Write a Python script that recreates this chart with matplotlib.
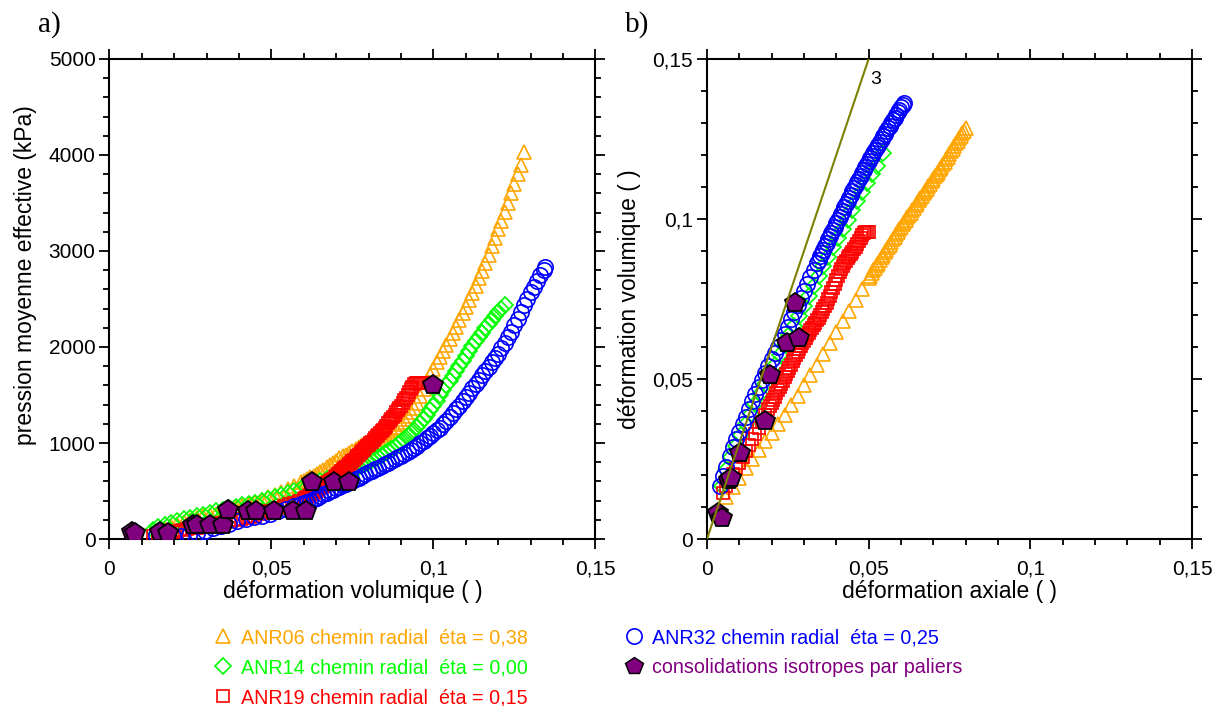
import matplotlib
matplotlib.use('Agg')
import matplotlib.pyplot as plt
from matplotlib.lines import Line2D
from matplotlib.ticker import MultipleLocator, FuncFormatter

plt.rcParams['font.family'] = ['Liberation Sans', 'DejaVu Sans']

# ---- a) pression moyenne effective (kPa) vs deformation volumique ----
ev06 = [0.015, 0.017, 0.019, 0.021, 0.023, 0.025, 0.027, 0.029, 0.031, 0.033, 0.035, 0.037,
        0.039, 0.041, 0.043, 0.045, 0.047, 0.049, 0.051, 0.053, 0.055, 0.057, 0.059,
        0.060, 0.061, 0.062, 0.063, 0.064, 0.065, 0.066, 0.067, 0.068, 0.069,
        0.070, 0.071, 0.072, 0.073, 0.074, 0.075, 0.076, 0.077, 0.078, 0.079,
        0.080, 0.081, 0.082, 0.083, 0.084, 0.085, 0.086, 0.087, 0.088, 0.089,
        0.090, 0.091, 0.092, 0.093, 0.094, 0.095, 0.096, 0.097, 0.098, 0.099,
        0.100, 0.101, 0.102, 0.103, 0.104, 0.105, 0.106, 0.107, 0.108, 0.109,
        0.110, 0.111, 0.112, 0.113, 0.114, 0.115, 0.116, 0.117, 0.118, 0.119,
        0.120, 0.121, 0.122, 0.123, 0.124, 0.125, 0.126, 0.127, 0.128]
p06 = [60, 100, 135, 160, 180, 200, 220, 235, 250, 265, 280, 300,
       320, 340, 360, 385, 410, 435, 460, 490, 520, 555, 590,
       607, 625, 642, 660, 680, 700, 722, 745, 767, 790,
       815, 840, 860, 880, 900, 920, 940, 960, 978, 995,
       1010, 1025, 1042, 1060, 1080, 1100, 1122, 1145, 1170, 1195,
       1222, 1250, 1283, 1320, 1365, 1420, 1485, 1560, 1635, 1710,
       1775, 1840, 1900, 1960, 2020, 2080, 2145, 2210, 2280, 2350,
       2420, 2490, 2565, 2640, 2715, 2790, 2875, 2960, 3050, 3140,
       3225, 3310, 3405, 3500, 3600, 3700, 3800, 3900, 4030]

ev14 = [0.0135, 0.015, 0.017, 0.019, 0.021, 0.023, 0.025, 0.027, 0.029, 0.031, 0.033, 0.035,
        0.037, 0.039, 0.041, 0.043, 0.045, 0.047, 0.049, 0.051, 0.053, 0.055, 0.057, 0.059,
        0.061, 0.063, 0.065, 0.067, 0.069,
        0.070, 0.071, 0.072, 0.073, 0.074, 0.075, 0.076, 0.077, 0.078, 0.079,
        0.080, 0.081, 0.082, 0.083, 0.084, 0.085, 0.086, 0.087, 0.088, 0.089,
        0.090, 0.091, 0.092, 0.093, 0.094, 0.095, 0.096, 0.097, 0.098, 0.099,
        0.100, 0.101, 0.102, 0.103, 0.104, 0.105, 0.106, 0.107, 0.108, 0.109,
        0.110, 0.111, 0.112, 0.113, 0.114, 0.115, 0.116, 0.117, 0.118, 0.119,
        0.120, 0.121, 0.122]
p14 = [90, 125, 150, 170, 185, 205, 220, 240, 255, 270, 290, 305,
       320, 335, 350, 365, 380, 395, 415, 435, 455, 475, 500, 520,
       545, 570, 600, 625, 650,
       662, 675, 688, 700, 712, 725, 740, 755, 770, 785,
       802, 820, 837, 855, 875, 895, 917, 940, 962, 985,
       1012, 1040, 1070, 1100, 1135, 1170, 1210, 1250, 1295, 1340,
       1390, 1440, 1495, 1550, 1600, 1650, 1700, 1750, 1800, 1850,
       1905, 1960, 2010, 2060, 2105, 2150, 2195, 2240, 2280, 2320,
       2360, 2400, 2440]

ev19 = [0.0135, 0.015, 0.0165, 0.018, 0.0195, 0.021, 0.0225, 0.024, 0.0255, 0.027, 0.0285,
        0.030, 0.0315, 0.033, 0.0345, 0.036, 0.0375, 0.039, 0.0405, 0.042, 0.0435, 0.045,
        0.0465, 0.048, 0.0495, 0.051, 0.0525, 0.054, 0.0555, 0.057, 0.0585,
        0.0600, 0.0605, 0.0610, 0.0615, 0.0620, 0.0625, 0.0630, 0.0635, 0.0640, 0.0645,
        0.0650, 0.0655, 0.0660, 0.0665, 0.0670, 0.0675, 0.0680, 0.0685, 0.0690, 0.0695,
        0.0700, 0.0705, 0.0710, 0.0715, 0.0720, 0.0725, 0.0730, 0.0735, 0.0740, 0.0745,
        0.0750, 0.0755, 0.0760, 0.0765, 0.0770, 0.0775, 0.0780, 0.0785, 0.0790, 0.0795,
        0.0800, 0.0805, 0.0810, 0.0815, 0.0820, 0.0825, 0.0830, 0.0835, 0.0840, 0.0845,
        0.0850, 0.0855, 0.0860, 0.0865, 0.0870, 0.0875, 0.0880, 0.0885, 0.0890, 0.0895,
        0.0900, 0.0905, 0.0910, 0.0915, 0.0920, 0.0925, 0.0930, 0.0935, 0.0940, 0.0945,
        0.0950, 0.0955, 0.0960, 0.0965, 0.0970]
p19 = [30, 40, 50, 60, 70, 80, 90, 100, 110, 120, 130,
       140, 150, 160, 170, 180, 190, 200, 210, 220, 230, 245,
       260, 275, 290, 305, 320, 340, 360, 380, 400,
       420, 430, 440, 450, 460, 470, 480, 492, 505, 517,
       530, 542, 555, 567, 580, 592, 605, 617, 630, 645,
       660, 675, 690, 705, 720, 735, 750, 765, 780, 795,
       810, 828, 845, 862, 880, 897, 915, 932, 950, 965,
       980, 998, 1015, 1032, 1050, 1068, 1085, 1102, 1120, 1140,
       1160, 1182, 1205, 1228, 1250, 1272, 1295, 1318, 1340, 1365,
       1390, 1418, 1445, 1472, 1500, 1530, 1560, 1585, 1610, 1620,
       1620, 1620, 1620, 1620, 1620]

ev32 = [0.0145, 0.017, 0.0195, 0.022, 0.0245, 0.027, 0.0295, 0.032, 0.0345, 0.037, 0.0395,
        0.042, 0.0445, 0.047, 0.0495, 0.052, 0.0545, 0.057, 0.059,
        0.060, 0.061, 0.062, 0.063, 0.064, 0.065, 0.066, 0.067, 0.068, 0.069,
        0.070, 0.071, 0.072, 0.073, 0.074, 0.075, 0.076, 0.077, 0.078, 0.079,
        0.080, 0.081, 0.082, 0.083, 0.084, 0.085, 0.086, 0.087, 0.088, 0.089,
        0.090, 0.091, 0.092, 0.093, 0.094, 0.095, 0.096, 0.097, 0.098, 0.099,
        0.100, 0.101, 0.102, 0.103, 0.104, 0.105, 0.106, 0.107, 0.108, 0.109,
        0.110, 0.111, 0.112, 0.113, 0.114, 0.115, 0.116, 0.117, 0.118, 0.119,
        0.120, 0.121, 0.122, 0.123, 0.124, 0.125, 0.126, 0.127, 0.128, 0.129,
        0.130, 0.131, 0.132, 0.133, 0.134, 0.1345]
p32 = [45, 35, 30, 30, 45, 65, 85, 110, 135, 160, 185,
       205, 225, 245, 265, 290, 315, 340, 362,
       375, 387, 400, 415, 432, 448, 464, 480, 496, 512,
       528, 544, 560, 576, 592, 608, 624, 640, 658, 676,
       694, 710, 725, 743, 761, 779, 797, 815, 833, 851,
       869, 887, 905, 926, 948, 972, 996, 1020, 1048, 1076,
       1104, 1132, 1160, 1195, 1230, 1270, 1310, 1350, 1390, 1435,
       1480, 1525, 1570, 1615, 1660, 1705, 1750, 1795, 1840, 1885,
       1930, 1985, 2040, 2100, 2160, 2225, 2290, 2365, 2440, 2505,
       2570, 2630, 2690, 2745, 2800, 2830]

ev_cons = [0.0069, 0.0079, 0.0156, 0.0182, 0.0259, 0.0270, 0.0311, 0.0352, 0.0365, 0.0429, 0.0453,
           0.0508, 0.0566, 0.0607, 0.0625, 0.0692, 0.0738, 0.1000]
p_cons = [76, 66, 76, 66, 146, 146, 146, 146, 302, 295, 295, 295, 295, 295, 597, 597, 597, 1600]

# ---- b) deformation volumique vs deformation axiale ----
ea06_b = [0.006, 0.008, 0.010, 0.012, 0.014, 0.016, 0.018, 0.020, 0.022, 0.024, 0.026, 0.028,
          0.030, 0.032, 0.034, 0.036, 0.038, 0.040, 0.042, 0.044, 0.046, 0.048, 0.050,
          0.0505, 0.0510, 0.0515, 0.0520, 0.0525, 0.0530, 0.0535, 0.0540, 0.0545, 0.0550,
          0.0555, 0.0560, 0.0565, 0.0570, 0.0575, 0.0580, 0.0585, 0.0590, 0.0595, 0.0600,
          0.0605, 0.0610, 0.0615, 0.0620, 0.0625, 0.0630, 0.0635, 0.0640, 0.0645, 0.0650,
          0.0655, 0.0660, 0.0665, 0.0670, 0.0675, 0.0680, 0.0685, 0.0690, 0.0695, 0.0700,
          0.0705, 0.0710, 0.0715, 0.0720, 0.0725, 0.0730, 0.0735, 0.0740, 0.0745, 0.0750,
          0.0755, 0.0760, 0.0765, 0.0770, 0.0775, 0.0780, 0.0785, 0.0790, 0.0795, 0.0800]
ev06_b = [0.0130, 0.0162, 0.0192, 0.0222, 0.0250, 0.0278, 0.0305, 0.0332, 0.0360, 0.0388, 0.0418,
          0.0448, 0.0480, 0.0512, 0.0545, 0.0578, 0.0612, 0.0646, 0.0680, 0.0714, 0.0748, 0.0782,
          0.0815,
          0.0823, 0.0831, 0.0840, 0.0848, 0.0856, 0.0864, 0.0872, 0.0880, 0.0888, 0.0896,
          0.0904, 0.0912, 0.0920, 0.0928, 0.0936, 0.0944, 0.0952, 0.0960, 0.0968, 0.0975,
          0.0983, 0.0990, 0.0998, 0.1005, 0.1013, 0.1020, 0.1028, 0.1035, 0.1043, 0.1050,
          0.1058, 0.1065, 0.1073, 0.1080, 0.1088, 0.1095, 0.1103, 0.1110, 0.1118, 0.1125,
          0.1133, 0.1140, 0.1148, 0.1155, 0.1163, 0.1171, 0.1179, 0.1187, 0.1195, 0.1203,
          0.1212, 0.1220, 0.1228, 0.1236, 0.1244, 0.1252, 0.1260, 0.1268, 0.1276, 0.1283]

ea14_b = [0.0045, 0.006, 0.0075, 0.009, 0.0105, 0.012, 0.0135, 0.015, 0.0165, 0.018, 0.0195, 0.021,
          0.0225, 0.024, 0.0255, 0.027, 0.0285, 0.030, 0.0315, 0.033, 0.0345, 0.036, 0.0375, 0.039,
          0.0405, 0.042, 0.0435, 0.045, 0.0465, 0.048, 0.0495, 0.051, 0.0525, 0.0545]
ev14_b = [0.0165, 0.0215, 0.0255, 0.0292, 0.0325, 0.0358, 0.0390, 0.0422, 0.0453, 0.0484, 0.0515,
          0.0545, 0.0575, 0.0605, 0.0636, 0.0667, 0.0698, 0.0729, 0.0760, 0.0791, 0.0822, 0.0852,
          0.0882, 0.0911, 0.0940, 0.0969, 0.0998, 0.1027, 0.1055, 0.1083, 0.1111, 0.1139, 0.1167,
          0.1205]

ea19_b = [0.005, 0.006, 0.007, 0.008, 0.009, 0.010, 0.011, 0.012, 0.013, 0.014, 0.015, 0.016,
          0.017, 0.018, 0.019,
          0.0195, 0.0200, 0.0205, 0.0210, 0.0215, 0.0220, 0.0225, 0.0230, 0.0235, 0.0240,
          0.0245, 0.0250, 0.0255, 0.0260, 0.0265, 0.0270, 0.0275, 0.0280, 0.0285, 0.0290,
          0.0295, 0.0300, 0.0305, 0.0310, 0.0315, 0.0320, 0.0325, 0.0330, 0.0335, 0.0340,
          0.0345, 0.0350, 0.0355, 0.0360, 0.0365, 0.0370, 0.0375, 0.0380, 0.0385, 0.0390,
          0.0395, 0.0400, 0.0405, 0.0410, 0.0415, 0.0420, 0.0425, 0.0430, 0.0435, 0.0440,
          0.0445, 0.0450, 0.0455, 0.0460, 0.0465, 0.0470, 0.0475, 0.0480, 0.0485, 0.0490,
          0.0495, 0.0500]
ev19_b = [0.0144, 0.0165, 0.0185, 0.0203, 0.0221, 0.0239, 0.0257, 0.0275, 0.0293, 0.0311, 0.0329,
          0.0348, 0.0367, 0.0386, 0.0405,
          0.0415, 0.0425, 0.0435, 0.0445, 0.0455, 0.0465, 0.0475, 0.0485, 0.0495, 0.0505,
          0.0515, 0.0525, 0.0535, 0.0545, 0.0555, 0.0565, 0.0575, 0.0584, 0.0593, 0.0602,
          0.0611, 0.0619, 0.0628, 0.0636, 0.0644, 0.0652, 0.0660, 0.0668, 0.0676, 0.0684,
          0.0692, 0.0701, 0.0710, 0.0719, 0.0728, 0.0738, 0.0749, 0.0760, 0.0772, 0.0785,
          0.0798, 0.0810, 0.0822, 0.0833, 0.0843, 0.0853, 0.0862, 0.0870, 0.0878, 0.0885,
          0.0892, 0.0898, 0.0905, 0.0912, 0.0921, 0.0930, 0.0940, 0.0950, 0.0956, 0.0960,
          0.0960, 0.0960]

ea32_b = [0.004, 0.005, 0.006, 0.007, 0.008, 0.009, 0.010, 0.011, 0.012, 0.013, 0.014, 0.015,
          0.016, 0.017, 0.018, 0.019, 0.020, 0.021, 0.022, 0.023, 0.024, 0.025, 0.026, 0.027,
          0.028, 0.029, 0.030, 0.031, 0.032, 0.033, 0.034,
          0.0345, 0.0350, 0.0355, 0.0360, 0.0365, 0.0370, 0.0375, 0.0380, 0.0385, 0.0390,
          0.0395, 0.0400, 0.0405, 0.0410, 0.0415, 0.0420, 0.0425, 0.0430, 0.0435, 0.0440,
          0.0445, 0.0450, 0.0455, 0.0460, 0.0465, 0.0470, 0.0475, 0.0480, 0.0485, 0.0490,
          0.0495, 0.0500, 0.0505, 0.0510, 0.0515, 0.0520, 0.0525, 0.0530, 0.0535, 0.0540,
          0.0545, 0.0550, 0.0555, 0.0560, 0.0565, 0.0570, 0.0575, 0.0580, 0.0585, 0.0590,
          0.0595, 0.0600, 0.0605, 0.0610]
ev32_b = [0.0165, 0.0197, 0.0225, 0.0258, 0.0288, 0.0312, 0.0335, 0.0358, 0.0382, 0.0406, 0.0430,
          0.0452, 0.0474, 0.0496, 0.0518, 0.0540, 0.0561, 0.0581, 0.0601, 0.0621, 0.0642, 0.0664,
          0.0686, 0.0708, 0.0730, 0.0752, 0.0774, 0.0796, 0.0818, 0.0840, 0.0862,
          0.0873, 0.0883, 0.0894, 0.0904, 0.0915, 0.0925, 0.0936, 0.0946, 0.0956, 0.0966,
          0.0976, 0.0986, 0.0996, 0.1006, 0.1016, 0.1026, 0.1036, 0.1046, 0.1056, 0.1066,
          0.1076, 0.1086, 0.1096, 0.1105, 0.1115, 0.1124, 0.1134, 0.1143, 0.1153, 0.1162,
          0.1171, 0.1180, 0.1189, 0.1198, 0.1207, 0.1215, 0.1224, 0.1232, 0.1241, 0.1249,
          0.1258, 0.1266, 0.1275, 0.1283, 0.1292, 0.1300, 0.1309, 0.1317, 0.1326, 0.1334,
          0.1342, 0.1350, 0.1356, 0.1362]

ea_cons_b = [0.0035, 0.0045, 0.0068, 0.0074, 0.0102, 0.0180, 0.0195, 0.0247, 0.0286, 0.0272]
ev_cons_b = [0.0082, 0.0066, 0.0183, 0.0191, 0.0269, 0.0368, 0.0514, 0.0613, 0.0629, 0.0738]

iso_slope = 3
iso_ea = [0.0, 0.05]

labels = ['ANR06 chemin radial  éta = 0,38',
          'ANR14 chemin radial  éta = 0,00',
          'ANR19 chemin radial  éta = 0,15',
          'ANR32 chemin radial  éta = 0,25',
          'consolidations isotropes par paliers']

ORANGE = '#FFA500'
GREEN = '#00FF00'
RED = '#FF0000'
BLUE = '#0000FF'
PURPLE = '#800080'
OLIVE = '#808000'

fig = plt.figure(figsize=(12.12, 7.06), dpi=100)
ax1 = fig.add_axes([0.0903, 0.2365, 0.401, 0.680])
ax2 = fig.add_axes([0.5833, 0.2365, 0.4002, 0.680])


def hollow(ax, x, y, marker, color, ms, z):
    ax.plot(x, y, linestyle='none', marker=marker, ms=ms, mfc='none', mec=color, mew=1.2, zorder=z)


def cons(ax, x, y):
    ax.plot(x, y, linestyle='none', marker='p', ms=15, mfc=PURPLE, mec='black', mew=1.3, zorder=6)


hollow(ax1, ev06, p06, '^', ORANGE, 10, 2)
hollow(ax1, ev14, p14, 'D', GREEN, 8, 3)
hollow(ax1, ev19, p19, 's', RED, 8.5, 4)
hollow(ax1, ev32, p32, 'o', BLUE, 11, 5)
cons(ax1, ev_cons, p_cons)

hollow(ax2, ea06_b, ev06_b, '^', ORANGE, 10, 2)
hollow(ax2, ea14_b, ev14_b, 'D', GREEN, 8, 3)
hollow(ax2, ea19_b, ev19_b, 's', RED, 8.5, 4)
hollow(ax2, ea32_b, ev32_b, 'o', BLUE, 11, 5)
cons(ax2, ea_cons_b, ev_cons_b)
ax2.plot(iso_ea, [iso_slope * e for e in iso_ea], color=OLIVE, lw=1.5, zorder=7)
ax2.text(0.0505, 0.1435, '3', fontsize=14, ha='left', va='center')


def comma(v, pos):
    s = f'{v:.2f}'.rstrip('0').rstrip('.')
    return s.replace('.', ',')


for ax in (ax1, ax2):
    ax.set_xlim(0, 0.15)
    ax.xaxis.set_major_locator(MultipleLocator(0.05))
    ax.xaxis.set_minor_locator(MultipleLocator(0.01))
    ax.xaxis.set_major_formatter(FuncFormatter(comma))
    ax.tick_params(which='both', direction='out', top=True, right=True, width=1.3,
                   labelsize=15, colors='black')
    ax.tick_params(which='major', length=7)
    ax.tick_params(which='minor', length=4)
    ax.tick_params(axis='x', pad=8)
    ax.tick_params(axis='y', pad=3)
    for sp in ax.spines.values():
        sp.set_linewidth(1.5)

ax1.set_ylim(0, 5000)
ax1.yaxis.set_major_locator(MultipleLocator(1000))
ax1.yaxis.set_minor_locator(MultipleLocator(200))
ax1.set_xlabel('déformation volumique ( )', fontsize=16.5, labelpad=1)
ax1.set_ylabel('pression moyenne effective (kPa)', fontsize=16.5)
ax1.yaxis.set_label_coords(-0.149, 0.549)

ax2.set_ylim(0, 0.15)
ax2.yaxis.set_major_locator(MultipleLocator(0.05))
ax2.yaxis.set_minor_locator(MultipleLocator(0.01))
ax2.yaxis.set_major_formatter(FuncFormatter(comma))
ax2.set_xlabel('déformation axiale ( )', fontsize=16.5, labelpad=1)
ax2.set_ylabel('déformation volumique ( )', fontsize=16.5, labelpad=8)

fig.text(0.031, 0.955, 'a)', fontsize=21, family=['Liberation Serif', 'DejaVu Serif'])
fig.text(0.516, 0.955, 'b)', fontsize=21, family=['Liberation Serif', 'DejaVu Serif'])

handles = [
    Line2D([], [], linestyle='none', marker='^', ms=10, mfc='none', mec=ORANGE, mew=1.2),
    Line2D([], [], linestyle='none', marker='D', ms=8, mfc='none', mec=GREEN, mew=1.2),
    Line2D([], [], linestyle='none', marker='s', ms=8.5, mfc='none', mec=RED, mew=1.2),
    Line2D([], [], linestyle='none', marker='o', ms=11, mfc='none', mec=BLUE, mew=1.2),
    Line2D([], [], linestyle='none', marker='p', ms=13, mfc=PURPLE, mec='black', mew=1.0),
]
fig.legend(handles, labels, loc='upper left', bbox_to_anchor=(0.168, 0.124), ncol=2,
           frameon=False, fontsize=14.2, handlelength=1.0, handletextpad=0.4,
           labelspacing=0.55, columnspacing=4.9, borderpad=0,
           labelcolor=[ORANGE, GREEN, RED, BLUE, PURPLE])

fig.savefig('out.png', dpi=100)
